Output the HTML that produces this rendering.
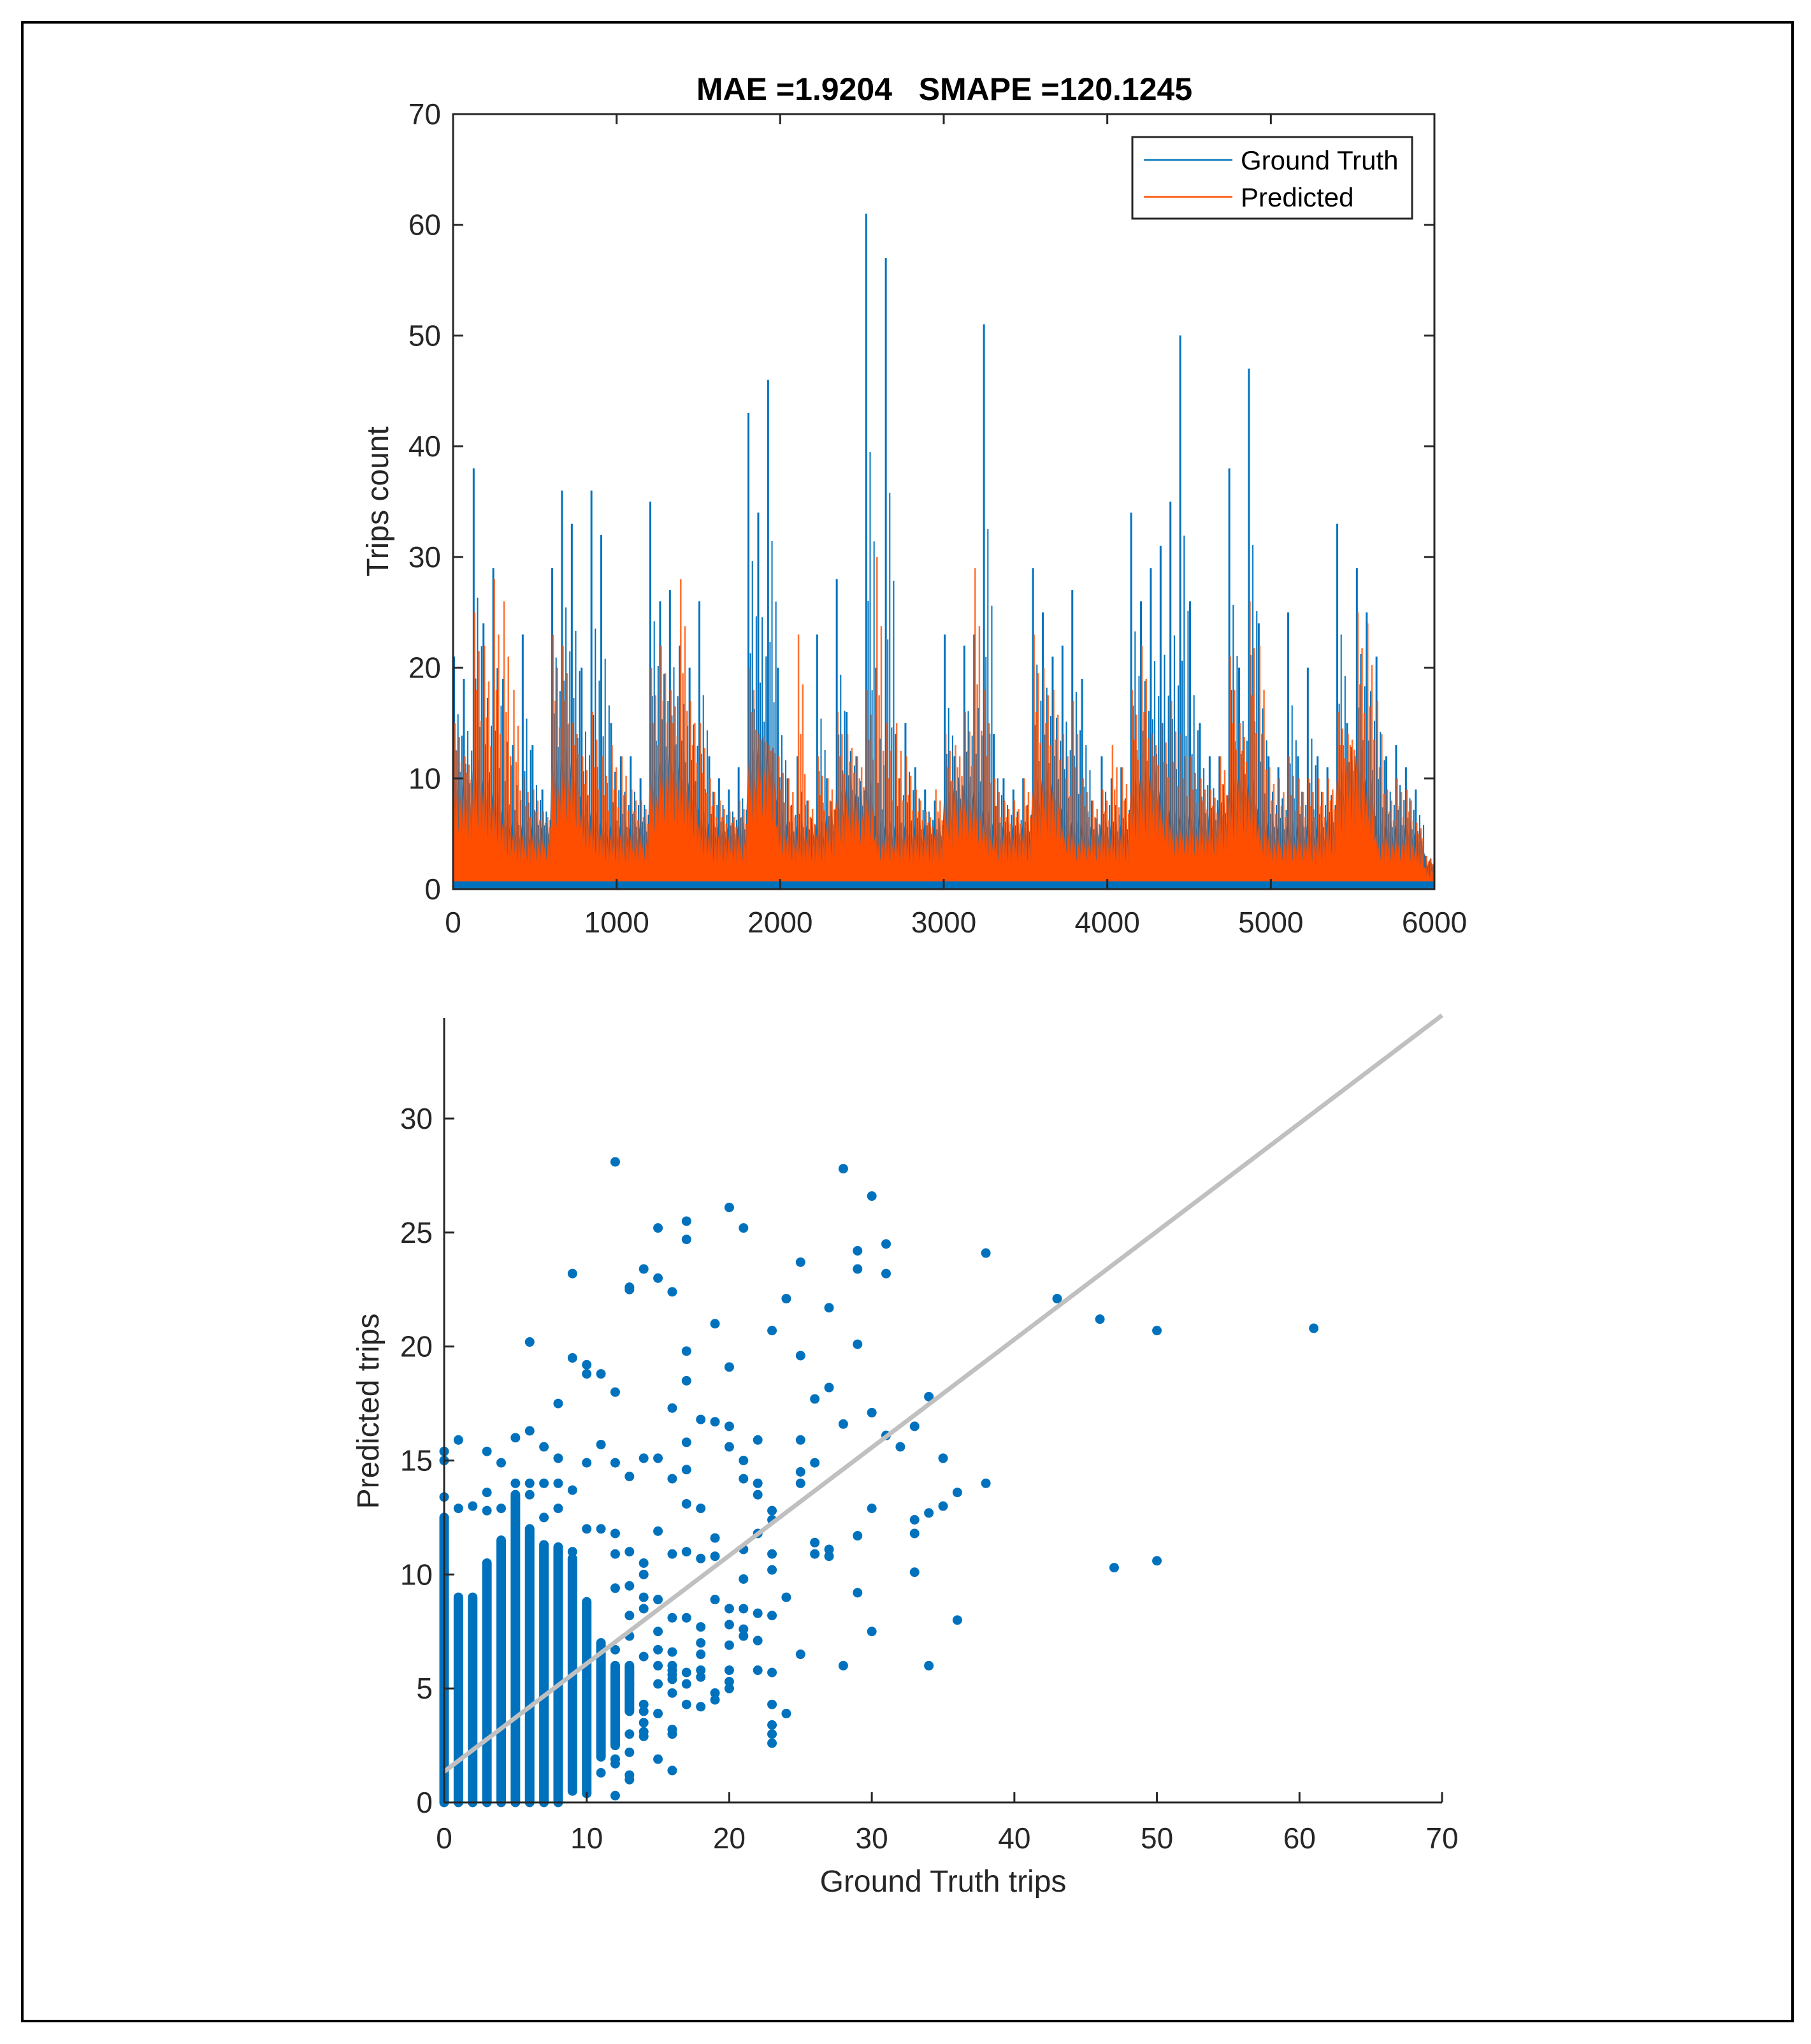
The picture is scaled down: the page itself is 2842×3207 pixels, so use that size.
<!DOCTYPE html>
<html><head><meta charset="utf-8"><style>
html,body{margin:0;padding:0;background:#fff;}
svg text{font-family:"Liberation Sans",Arial,sans-serif;}
.pre{white-space:pre;}
</style></head><body>
<svg id="fig" width="2842" height="3202" viewBox="0 0 2842 3202" xmlns="http://www.w3.org/2000/svg">
<rect x="0" y="0" width="2842" height="3202" fill="#fff"/>
<rect x="35" y="35" width="2778" height="3136" fill="none" stroke="#000" stroke-width="4"/>
<g id="topChart"></g>
<g id="botChart"></g>
</svg>
<script>
// ---- time series data (max per 60-sample bin) ----
const binWidth = 60;
const gtMax = [21,19,38,24,29,19,13,23,13,9,29,36,33,20,36,32,15,12,12,10,35,26,27,22,20,26,12,10,9,11,43,34,46,20,10,12,8,23,10,28,16,12,61,20,57,14,15,11,9,8,23,12,22,23,51,14,10,9,10,29,25,21,22,27,19,8,12,10,11,34,26,29,31,35,50,26,15,12,12,38,20,47,24,12,11,25,12,20,12,11,33,15,29,25,21,12,13,11,9,3];
const predMax = [15,12,25,22,28,26,18,10,9,7,23,22,15,12,16,12,13,12,9,8,20,22,18,28,17,15,10,8,7,8,20,14,13,12,10,23,8,12,10,16,14,12,18,30,15,15,12,9,7,9,14,13,16,29,18,10,8,8,10,23,20,18,14,17,10,8,9,13,11,18,22,14,15,17,14,12,10,9,12,21,15,26,22,11,10,12,10,10,10,10,16,14,25,24,17,9,10,9,6,3];
const denseLvl = [10,9,11,9,8,6,5,5,5,5,11,12,11,7,6,5,5,5,5,5,10,12,12,11,9,6,5,5,5,5,12,13,12,6,5,5,5,5,6,8,9,8,9,5,5,5,5,5,5,5,8,9,9,8,6,5,5,5,5,9,10,9,6,5,5,5,5,5,5,9,10,10,8,6,6,6,6,6,7,9,10,9,6,5,5,5,5,5,5,6,10,12,12,9,5,5,5,5,4,2];
const tsXTicks = [0,1000,2000,3000,4000,5000,6000];
const tsYTicks = [0,10,20,30,40,50,60,70];

// ---- scatter data ----
const colX  = [0,1,2,3,4,5,6,7,8,9,10,11,12,13];
const colLo = [0,0,0,0,0,0,0,0,0,0.5,0.4,2,2.5,4];
const colHi = [12.5,9,9,10.5,11.5,13.5,12,11.3,11.2,10.7,8.8,7,6,6];
const ptX = [12,28,30,20,17,15,21,17,31,29,38,25,29,14,9,31,15,13,13,16,24,43,27,46,19,23,50,61,6,29,25,9,10,20,10,11,12,17,17,27,26,34,8,16,30,18,19,20,28,33,6,31,5,1,22,25,32,7,17,20,3,0,0,4,8,10,11,12,14,15,21,26,35,17,25,38,13,16,22,25,36,21,3,6,0,22,35,34,30,23,23,1,2,3,4,17,18,33,33,29,26,22,19,15,26,27,27,21,19,23,18,17,16,33,47,50,23,21,29,24,19,20,21,22,23,36,16,17,18,20,21,21,22,30,18,20,18,25,28,34,22,23,20,17,18,18,16,16,16,17,20,20,19,19,16,17,18,23,24,23,23,23,16,16,15,16,10,12,13,13,12,12,11,14,14,15,13,15,15,15,14,14,13,13,16,16,14,15,14,13,14,13,12,12,12,12,14,13,13,14,14,13,15,11,10,9,12,8,7,6,5,7,8,9];
const ptY = [28.1,27.8,26.6,26.1,25.5,25.2,25.2,24.7,24.5,24.2,24.1,23.7,23.4,23.4,23.2,23.2,23.0,22.6,22.5,22.4,22.1,22.1,21.7,21.2,21.0,20.7,20.7,20.8,20.2,20.1,19.6,19.5,19.2,19.1,18.8,18.8,18.0,19.8,18.5,18.2,17.7,17.8,17.5,17.3,17.1,16.8,16.7,16.5,16.6,16.5,16.3,16.1,16.0,15.9,15.9,15.9,15.6,15.6,15.8,15.6,15.4,15.4,15.0,14.9,15.1,14.9,15.7,14.9,15.1,15.1,15.0,14.9,15.1,14.6,14.5,14.0,14.3,14.2,14.0,14.0,13.6,14.2,13.6,14.0,13.4,13.5,13.0,12.7,12.9,12.8,12.4,12.9,13.0,12.8,12.9,13.1,12.9,12.4,11.8,11.7,11.4,11.8,11.6,11.9,10.9,11.1,10.8,11.1,10.8,10.9,10.7,11.0,10.9,10.1,10.3,10.6,10.2,9.8,9.2,9.0,8.9,8.5,8.5,8.3,8.2,8.0,8.1,8.1,7.7,7.8,7.6,7.3,7.1,7.5,7.0,6.9,6.5,6.5,6.0,6.0,5.8,5.7,5.8,5.7,5.8,5.5,5.8,5.6,5.4,5.2,5.3,5.0,4.8,4.5,4.8,4.3,4.2,4.3,3.9,3.4,3.0,2.6,3.2,3.0,1.9,1.4,0.4,0.3,1.2,1.0,1.7,1.9,1.3,2.9,3.1,3.9,3.0,6.7,7.5,8.9,9.0,8.5,8.2,7.3,6.0,6.6,6.4,6.0,10.5,11.0,10.0,9.5,10.9,9.4,6.7,4.5,4.3,5.7,5.2,4.0,3.5,2.2,5.2,12.0,12.0,11.0,11.8,14.0,14.0,13.5,14.0,12.5,12.9,13.7];
const fitIntercept = 1.35;
const fitSlope = 0.474;
const scXTicks = [0,10,20,30,40,50,60,70];
const scYTicks = [0,5,10,15,20,25,30];

const NS = "http://www.w3.org/2000/svg";
function mk(parent, tag, attrs, text){
  const e = document.createElementNS(NS, tag);
  for (const k in attrs) e.setAttribute(k, attrs[k]);
  if (text !== undefined) e.textContent = text;
  parent.appendChild(e);
  return e;
}
const BLUE = "#0072BD", ORANGE = "#FF4E00", AX = "#262626";
const fracs = [1, 0.35, 0.6, 0.2, 0.45];

// ================= TOP CHART =================
const topG = document.getElementById("topChart");
const L = 711, R = 2251, T = 179, B = 1395;
const xs = v => L + (v / 6000) * (R - L);
const ys = v => B - (v / 70) * (B - T);

// blue dense band (jagged, slightly above orange)
let gtDense = "M" + xs(0) + "," + ys(0);
denseLvl.forEach((d, i) => {
  const h = Math.min(gtMax[i], d + 1.5);
  gtDense += " L" + xs(i * binWidth + 5) + "," + ys(h) + " L" + xs(i * binWidth + 20) + "," + ys(h * 0.7) + " L" + xs(i * binWidth + 35) + "," + ys(h * 0.95) + " L" + xs(i * binWidth + 50) + "," + ys(h * 0.65);
});
gtDense += " L" + xs(denseLvl.length * binWidth) + "," + ys(0) + " Z";
const gd = mk(topG, "path", {d: gtDense, fill: "#3a6f9c"});



// blue spikes
gtMax.forEach((v, i) => {
  fracs.forEach((f, k) => {
    const xv = i * binWidth + 6 + k * 12;
    const hv = denseLvl[i] * 0.8 + (v - denseLvl[i] * 0.8) * f;
    const ln = mk(topG, "line", {x1: xs(xv), x2: xs(xv), y1: ys(0), y2: ys(hv), stroke: BLUE, "stroke-width": k === 0 ? 3 : 2});
    
    
  });
});

// orange dense fill (saw-tooth)
let pd = "M" + xs(0) + "," + ys(0);
denseLvl.forEach((d, i) => {
  pd += " L" + xs(i * binWidth + 3) + "," + ys(d) + " L" + xs(i * binWidth + 13) + "," + ys(d * 0.55) + " L" + xs(i * binWidth + 23) + "," + ys(d * 0.9) + " L" + xs(i * binWidth + 33) + "," + ys(d * 0.5) + " L" + xs(i * binWidth + 43) + "," + ys(d * 0.85) + " L" + xs(i * binWidth + 53) + "," + ys(d * 0.45);
});
pd += " L" + xs(denseLvl.length * binWidth) + "," + ys(0) + " Z";
const pf = mk(topG, "path", {d: pd, fill: ORANGE});



// orange spikes
predMax.forEach((v, i) => {
  [1, 0.5, 0.75, 0.3].forEach((f, k) => {
    const xv = i * binWidth + 12 + k * 13;
    const hv = Math.max(denseLvl[i] * 0.5, denseLvl[i] + (v - denseLvl[i]) * f);
    const ln = mk(topG, "line", {x1: xs(xv), x2: xs(xv), y1: ys(0), y2: ys(hv), stroke: ORANGE, "stroke-width": 2.5, opacity: "0.8"});
    
    
  });
});
const bb = mk(topG, "rect", {x: xs(0), y: ys(0.7), width: xs(denseLvl.length * binWidth) - xs(0), height: ys(0) - ys(0.7), fill: BLUE});



const box = mk(topG, "rect", {x: L, y: T, width: R - L, height: B - T, fill: "none", stroke: AX, "stroke-width": 3});


tsXTicks.forEach(t => {
  mk(topG, "line", {x1: xs(t), x2: xs(t), y1: B, y2: B - 16, stroke: AX, "stroke-width": 3});
  mk(topG, "line", {x1: xs(t), x2: xs(t), y1: T, y2: T + 16, stroke: AX, "stroke-width": 3});
  const tx = mk(topG, "text", {x: xs(t), y: 1463, "text-anchor": "middle", "font-size": 46, fill: AX}, String(t));
  
  
});
tsYTicks.forEach(t => {
  mk(topG, "line", {x1: L, x2: L + 16, y1: ys(t), y2: ys(t), stroke: AX, "stroke-width": 3});
  mk(topG, "line", {x1: R, x2: R - 16, y1: ys(t), y2: ys(t), stroke: AX, "stroke-width": 3});
  const tx = mk(topG, "text", {x: 692, y: ys(t) + 16, "text-anchor": "end", "font-size": 46, fill: AX}, String(t));
  
  
});
const title = mk(topG, "text", {x: 1482, y: 157, "text-anchor": "middle", "font-size": 50, "font-weight": "bold", fill: "#000", "class": "pre"}, "MAE =1.9204   SMAPE =120.1245");


const yl = mk(topG, "text", {x: 0, y: 0, transform: "translate(609,787) rotate(-90)", "text-anchor": "middle", "font-size": 48, fill: AX}, "Trips count");



const lg = mk(topG, "g", {});


mk(lg, "rect", {x: 1777, y: 215, width: 439, height: 128, fill: "#fff", stroke: AX, "stroke-width": 3});
const le1 = mk(lg, "line", {x1: 1795, x2: 1934, y1: 251, y2: 251, stroke: BLUE, "stroke-width": 2.5});


mk(lg, "text", {x: 1947, y: 266, "font-size": 42, fill: "#000"}, "Ground Truth");
const le2 = mk(lg, "line", {x1: 1795, x2: 1934, y1: 309, y2: 309, stroke: ORANGE, "stroke-width": 2.5});


mk(lg, "text", {x: 1947, y: 324, "font-size": 42, fill: "#000"}, "Predicted");

// ================= SCATTER =================
const botG = document.getElementById("botChart");
const SL = 697, SR = 2263, ST = 1597, SB = 2828;
const sx = v => SL + (v / 70) * (SR - SL);
const sy = v => SB - (v / 30) * 1073;

colX.forEach((c, i) => {
  const seg = mk(botG, "line", {x1: sx(c), x2: sx(c), y1: sy(colLo[i]), y2: sy(colHi[i]), stroke: BLUE, "stroke-width": 15, "stroke-linecap": "round"});
  
  
});
ptX.forEach((xv, i) => {
  const p = mk(botG, "circle", {cx: sx(xv), cy: sy(ptY[i]), r: 7.5, fill: BLUE});
  
  
});
const fit = mk(botG, "line", {x1: sx(0), y1: sy(fitIntercept), x2: sx(70), y2: sy(fitIntercept + fitSlope * 70), stroke: "#c0c0c0", "stroke-width": 7});



const ax1 = mk(botG, "line", {x1: SL, x2: SL, y1: ST, y2: SB, stroke: AX, "stroke-width": 3});


const ax2 = mk(botG, "line", {x1: SL, x2: SR, y1: SB, y2: SB, stroke: AX, "stroke-width": 3});


scXTicks.forEach(t => {
  mk(botG, "line", {x1: sx(t), x2: sx(t), y1: SB, y2: SB - 16, stroke: AX, "stroke-width": 3});
  const tx = mk(botG, "text", {x: sx(t), y: 2900, "text-anchor": "middle", "font-size": 46, fill: AX}, String(t));
  
  
});
scYTicks.forEach(t => {
  mk(botG, "line", {x1: SL, x2: SL + 16, y1: sy(t), y2: sy(t), stroke: AX, "stroke-width": 3});
  const tx = mk(botG, "text", {x: 679, y: sy(t) + 16, "text-anchor": "end", "font-size": 46, fill: AX}, String(t));
  
  
});
const sxl = mk(botG, "text", {x: 1480, y: 2968, "text-anchor": "middle", "font-size": 48, fill: AX}, "Ground Truth trips");


const syl = mk(botG, "text", {x: 0, y: 0, transform: "translate(594,2214) rotate(-90)", "text-anchor": "middle", "font-size": 48, fill: AX}, "Predicted trips");


</script>
</body></html>
